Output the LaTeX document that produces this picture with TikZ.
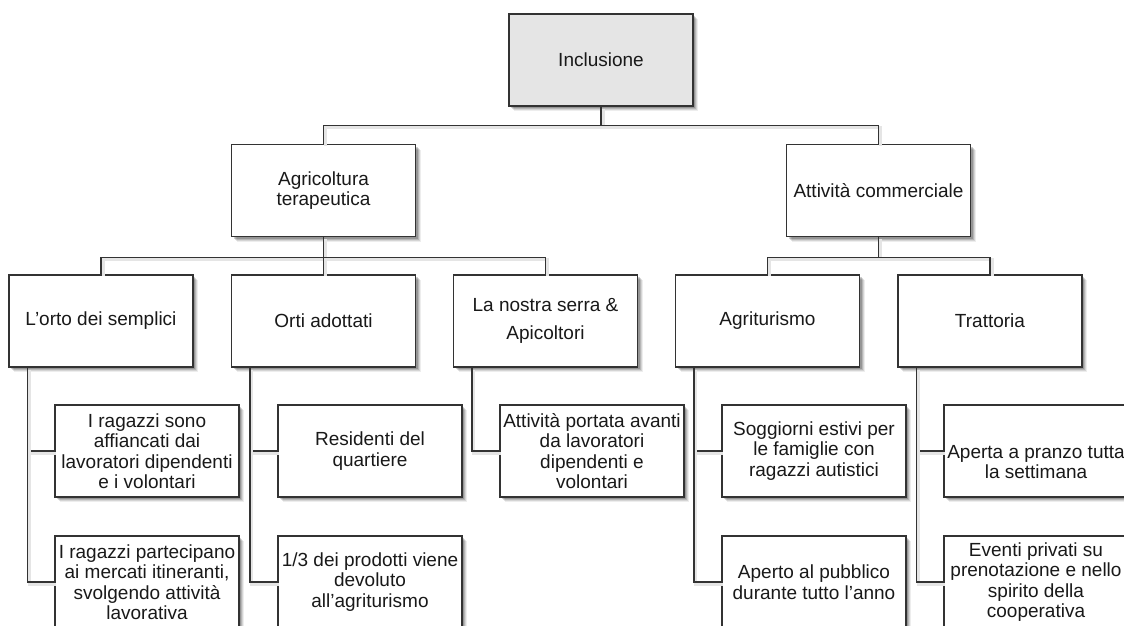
\documentclass[tikz,border=0pt]{standalone}
\usepackage{fontspec}
\setmainfont{Liberation Sans}
\usetikzlibrary{shadows}
\begin{document}
\begin{tikzpicture}[x=1pt,y=-1pt,
  softshadow/.style={
    drop shadow={shadow xshift=5pt, shadow yshift=-5pt, fill=black, opacity=0.07},
    drop shadow={shadow xshift=4pt, shadow yshift=-4pt, fill=black, opacity=0.10},
    drop shadow={shadow xshift=3pt, shadow yshift=-3pt, fill=black, opacity=0.14},
    drop shadow={shadow xshift=2pt, shadow yshift=-2pt, fill=black, opacity=0.18}},
  box/.style={draw=black!80, line width=1.2pt, fill=white, minimum width=184pt, minimum height=92pt, inner sep=0pt, align=center,
    font=\fontsize{19}{20.5}\selectfont, text=black!90, softshadow},
  rootbox/.style={box, fill=black!10},
  label/.style={font=\fontsize{19}{20.5}\selectfont, align=center, text=black!90, inner sep=0pt},
  conn/.style={draw=black!80, line width=1.2pt,
    preaction={draw=black!10, line width=3pt, transform canvas={xshift=2pt,yshift=-2pt}}}
]
\useasboundingbox (0,0) rectangle (1124,625);
\fill[white] (0,0) rectangle (1124,625);
\clip (0,0) rectangle (1124,625);

\node[rootbox] (root) at (601,60) {Inclusione};
\node[box] (agr) at (323.5,190.5) {Agricoltura\\terapeutica};
\node[box] (com) at (878.5,190.5) {Attività commerciale};

\node[box] (orto) at (101,321) {L’orto dei semplici};
\node[box] (orti) at (323.5,321) {Orti adottati};
\node[box] (serra) at (545.5,321) {La nostra serra \&\\[7pt]Apicoltori};
\node[box] (agri) at (767.5,321) {Agriturismo};
\node[box] (tratt) at (990,321) {Trattoria};

\node[box] (o1) at (147,451) {I ragazzi sono\\affiancati dai\\lavoratori dipendenti\\e i volontari};
\node[box] (o2) at (147,582) {I ragazzi partecipano\\ai mercati itineranti,\\svolgendo attività\\lavorativa};
\node[box] (r1) at (370,451) {Residenti del\\quartiere};
\node[box] (r2) at (370,582) {1/3 dei prodotti viene\\devoluto\\all’agriturismo};
\node[box] (s1) at (592,451) {Attività portata avanti\\da lavoratori\\dipendenti e\\volontari};
\node[box] (a1) at (814,451) {Soggiorni estivi per\\le famiglie con\\ragazzi autistici};
\node[box] (a2) at (814,582) {Aperto al pubblico\\durante tutto l’anno};
\node[box] (t1) at (1036,451) {};
\node[label] (t1text) at (1036,462) {Aperta a pranzo tutta\\la settimana};
\node[box] (t2) at (1036,582) {Eventi privati su\\prenotazione e nello\\spirito della\\cooperativa};

\draw[conn] (root.south) -- ++(0,19) -| (agr.north);
\draw[conn] (root.south) -- ++(0,19) -| (com.north);

\draw[conn] (agr.south) -- ++(0,20) -| (orto.north);
\draw[conn] (agr.south) -- ++(0,20) -| (orti.north);
\draw[conn] (agr.south) -- ++(0,20) -| (serra.north);
\draw[conn] (com.south) -- ++(0,20) -| (agri.north);
\draw[conn] (com.south) -- ++(0,20) -| (tratt.north);

\draw[conn] ([xshift=19pt]orto.south west) |- (o1.west);
\draw[conn] ([xshift=19pt]orto.south west) |- (o2.west);
\draw[conn] ([xshift=19pt]orti.south west) |- (r1.west);
\draw[conn] ([xshift=19pt]orti.south west) |- (r2.west);
\draw[conn] ([xshift=19pt]serra.south west) |- (s1.west);
\draw[conn] ([xshift=19pt]agri.south west) |- (a1.west);
\draw[conn] ([xshift=19pt]agri.south west) |- (a2.west);
\draw[conn] ([xshift=19pt]tratt.south west) |- (t1.west);
\draw[conn] ([xshift=19pt]tratt.south west) |- (t2.west);
\end{tikzpicture}
\end{document}
